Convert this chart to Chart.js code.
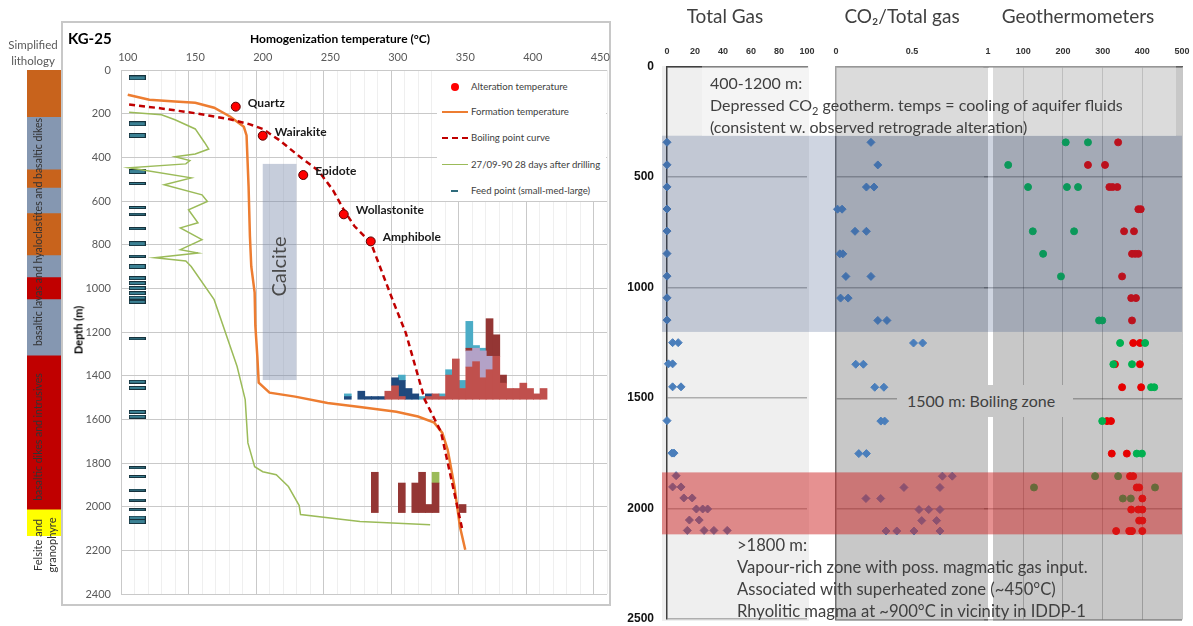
<!DOCTYPE html>
<html lang="en">
<head>
<meta charset="UTF-8">
<title>KG-25 temperatures and gas chemistry</title>
<script src="https://cdn.jsdelivr.net/npm/chart.js"></script>
<style>
    body {
        margin: 0;
        width: 1193px;
        height: 626px;
        position: relative;
        overflow: hidden;
        background: #fff;
        font-family: Lato, sans-serif;
        color: #404040;
    }
    canvas { position: absolute; left: 0; top: 0; z-index: 1; }
    .abs { position: absolute; white-space: nowrap; }
    .bg { position: absolute; z-index: 0; }
    .over { z-index: 2; }
    .rot { transform: translate(-50%, -50%) rotate(-90deg); }
    .title { font-size: 19px; color: #404040; transform: translateX(-50%); top: 4px; }
    .note { font-size: 16px; line-height: 22px; color: #404040; }
    #panelBox { left: 61px; top: 21px; width: 550px; height: 585px; border: 2px solid #c8c8c8; box-sizing: border-box; }
    #legend { left: 437px; top: 71px; width: 169px; height: 130px; background: #fff; font-size: 9.6px; color: #404040; }
    #legend .item { position: absolute; left: 34px; height: 14px; line-height: 14px; white-space: nowrap; }
    #legend .sym { position: absolute; }
</style>
</head>
<body>

<!-- right panel backgrounds -->
<div class="bg" style="left:662px; top:66px; width:147px; height:555px; background:#efefef;"></div>
<div class="bg" style="left:836px; top:66px; width:152px; height:555px; background:#c8c8c8;"></div>
<div class="bg" style="left:993px; top:66px; width:189px; height:555px; background:#c8c8c8;"></div>
<div id="panelBox" class="bg"></div>

<canvas id="litho" width="1193" height="626"></canvas>
<canvas id="kg" width="1193" height="626"></canvas>
<canvas id="gas" width="1193" height="626"></canvas>
<canvas id="co2" width="1193" height="626"></canvas>
<canvas id="geo" width="1193" height="626"></canvas>

<!-- left panel text -->
<div class="abs over" style="left:8px; top:37px; width:50px; text-align:center; font-size:11.5px; line-height:16px; color:#595959;">Simplified<br>lithology</div>
<div class="abs over rot" style="left:38px; top:232px; font-size:10.5px; color:#333;">basaltic lavas and hyaloclastites and basaltic dikes</div>
<div class="abs over rot" style="left:38px; top:437px; font-size:10.5px; color:#333;">basaltic dikes and intrusives</div>
<div class="abs over rot" style="left:37px; top:545px; font-size:11px; color:#333;">Felsite and</div>
<div class="abs over rot" style="left:51px; top:545px; font-size:11px; color:#333;">granophyre</div>

<div class="abs over" style="left:68px; top:29px; font-size:15px; font-weight:bold; color:#000;">KG-25</div>
<div class="abs over" style="left:340px; top:31px; transform:translateX(-50%); font-size:12px; font-weight:bold; color:#000;">Homogenization temperature (°C)</div>
<div class="abs over rot" style="left:78px; top:330px; font-size:11px; font-weight:bold; color:#000;">Depth (m)</div>

<div id="legend" class="abs over">
    <div class="sym" style="left:14px; top:12px; width:8px; height:8px; border-radius:50%; background:#ff0000;"></div>
    <div class="item" style="top:9px;">Alteration temperature</div>
    <div class="sym" style="left:5px; top:40px; width:26px; height:0; border-top:2px solid #ed7d31;"></div>
    <div class="item" style="top:34px;">Formation temperature</div>
    <div class="sym" style="left:5px; top:66px; width:26px; height:0; border-top:2px dashed #c00000;"></div>
    <div class="item" style="top:60px;">Boiling point curve</div>
    <div class="sym" style="left:5px; top:93px; width:26px; height:0; border-top:1.5px solid #9bbb59;"></div>
    <div class="item" style="top:87px;">27/09-90 28 days after drilling</div>
    <div class="sym" style="left:14px; top:119px; width:7px; height:2px; background:#2f6b7c;"></div>
    <div class="item" style="top:113px;">Feed point (small-med-large)</div>
</div>

<!-- right panel text -->
<div class="abs over title" style="left:725px;">Total Gas</div>
<div class="abs over title" style="left:902px;">CO₂/Total gas</div>
<div class="abs over title" style="left:1078px;">Geothermometers</div>

<div class="abs over" style="left:702px; top:66px; width:474px; height:70px; background:rgba(255,255,255,0.35);"></div>
<div class="abs over note" style="left:710px; top:72px;">400-1200 m:<br>Depressed CO<sub style="font-size:11px; line-height:0;">2</sub> geotherm. temps = cooling of aquifer fluids<br>(consistent w. observed retrograde alteration)</div>

<div class="abs over note" style="left:897px; top:385px; width:176px; height:32px; line-height:32px; background:#c8c8c8; padding-left:10px; box-sizing:border-box;">1500 m: Boiling zone</div>

<div class="abs over note" style="left:737px; top:534px; font-size:16.6px;">&gt;1800 m:<br>Vapour-rich zone with poss. magmatic gas input.<br>Associated with superheated zone (~450°C)<br>Rhyolitic magma at ~900°C in vicinity in IDDP-1</div>

<script>
// ---------- left panel: lithology ----------
const lithoTop    = [0, 217, 457, 541, 658, 850, 951, 1052, 1309, 2014];
const lithoBottom = [217, 457, 541, 658, 850, 951, 1052, 1309, 2014, 2133];
const lithoKind   = ['hyalo', 'lava', 'hyalo', 'lava', 'hyalo', 'lava', 'dike', 'lava', 'dike', 'felsite'];

// ---------- left panel: KG-25 ----------
const minerals     = ['Quartz', 'Wairakite', 'Epidote', 'Wollastonite', 'Amphibole'];
const mineralTemp  = [180, 200, 230, 260, 280];
const mineralDepth = [168, 301, 481, 661, 785];

const formTemp  = [100, 116, 135, 150, 164, 176, 186, 188, 189.5, 190.5, 191.5, 194, 194.5, 196, 197, 205, 224, 248, 272, 299, 315, 327, 333, 337, 342, 346, 350];
const formDepth = [113, 136, 144, 150, 173, 214, 260, 300, 533, 762, 900, 1020, 1170, 1313, 1432, 1478, 1496, 1525, 1543, 1565, 1587, 1615, 1662, 1740, 1907, 2090, 2197];

const boilTemp  = [101, 125, 150, 175, 190, 200, 212, 228, 241, 252, 260, 268, 280, 296, 306, 320, 332, 343, 348];
const boilDepth = [158, 176, 198, 225, 248, 270, 320, 400, 460, 550, 640, 716, 790, 1050, 1205, 1510, 1657, 1968, 2110];

const drillTemp  = [101, 125, 135, 150, 157, 160, 150, 135, 146, 143, 101, 147, 127, 155, 159, 145, 152, 139, 155, 139, 152, 120, 143, 147, 164, 181, 187, 189, 194, 200, 210, 219, 227, 228, 272, 324];
const drillDepth = [193, 205, 228, 270, 333, 362, 385, 397, 415, 430, 448, 494, 526, 572, 602, 640, 700, 723, 777, 823, 838, 860, 875, 900, 1052, 1358, 1510, 1708, 1817, 1840, 1854, 1908, 1995, 2036, 2068, 2083];

const feedDepth = [36, 246, 300, 465, 520, 630, 660, 727, 795, 853, 900, 953, 976, 999, 1022, 1043, 1062, 1231, 1428, 1456, 1566, 1588, 1822, 1862, 1924, 1970, 2014, 2052, 2068];
const feedSize  = [3, 3, 3, 3, 1, 1, 1, 1, 3, 1, 3, 2, 2, 2, 2, 2, 2, 1, 2, 2, 2, 2, 1, 1, 1, 1, 1, 3, 3];
const feedTemp  = 107;

const calciteTemp  = [200, 225];
const calciteDepth = [430, 1420];

// fluid inclusion histograms (counts per 5 °C bin)
const upBase = 1508;
const upBins      = [263, 268, 273, 278, 283, 288, 293, 298, 303, 308, 313, 318, 323, 328, 333, 338, 343, 348, 353, 358, 363, 368, 373, 378, 383, 388, 393, 398, 403, 408];
const upRed       = [0, 0, 0, 0, 0, 0, 3, 5, 1, 0, 0, 0, 1, 2, 1, 9, 15, 4, 12, 14, 8, 11, 16, 6, 4, 4, 6, 4, 2, 4];
const upDarkBlue  = [1, 0, 3, 1, 1, 1, 0, 3, 6, 4, 2, 0, 1, 0, 0, 0, 0, 0, 0, 0, 0, 0, 0, 0, 0, 0, 0, 0, 0, 0];
const upLavender  = [0, 0, 0, 0, 0, 0, 0, 0, 0, 0, 0, 0, 0, 0, 0, 0, 0, 0, 6, 5, 10, 5, 0, 0, 0, 0, 0, 0, 0, 0];
const upDarkRed   = [0, 0, 0, 0, 0, 0, 0, 0, 0, 0, 0, 0, 0, 0, 0, 0, 0, 0, 1, 0, 0, 14, 8, 3, 0, 0, 0, 0, 0, 0];
const upLightBlue = [1, 0, 0, 0, 0, 0, 0, 0, 2, 0, 0, 1, 0, 0, 1, 2, 0, 3, 10, 1, 1, 0, 0, 0, 0, 0, 0, 0, 0, 0];

const loBase = 2027;
const loBins    = [283, 303, 313, 318, 323, 328, 348];
const loDarkRed = [15, 11, 11, 15, 3, 11, 3];
const loGreen   = [0, 0, 0, 0, 0, 4, 0];
const countUnit = 12.3;   // metres of depth per inclusion

// ---------- right panel ----------
const gasDepth = [343, 445, 545, 645, 745, 847, 949, 1047, 1148, 1250, 1250, 1346, 1346, 1450, 1450, 1603, 1750, 1750, 1852, 1903, 1903, 1953, 1953, 2003, 2003, 2003, 2053, 2053, 2100, 2100, 2100, 2100];
const gasValue = [0, 0, 0, 0, 0, 0, 0, 0, 0, 4, 8, 1, 4, 4, 10, 0, 3.5, 5, 6.5, 4, 10, 12, 18, 21, 25.5, 29, 16, 23, 14.5, 26.5, 33.5, 43];

const co2Depth = [343, 445, 545, 545, 645, 645, 745, 745, 847, 847, 949, 949, 1047, 1047, 1148, 1148, 1250, 1250, 1346, 1346, 1450, 1450, 1603, 1603, 1750, 1750, 1852, 1852, 1903, 1903, 1953, 1953, 2003, 2003, 2003, 2053, 2053, 2100, 2100, 2100, 2100];
const co2Ratio = [0.23, 0.275, 0.20, 0.25, 0.01, 0.04, 0.125, 0.20, 0.025, 0.045, 0.065, 0.23, 0.03, 0.08, 0.275, 0.335, 0.51, 0.57, 0.13, 0.18, 0.255, 0.315, 0.295, 0.32, 0.15, 0.20, 0.70, 0.765, 0.447, 0.684, 0.197, 0.294, 0.546, 0.61, 0.684, 0.564, 0.662, 0.329, 0.40, 0.513, 0.684];

const geoGreenDepth = [343, 343, 445, 545, 545, 545, 745, 745, 847, 949, 1148, 1148, 1250, 1250, 1346, 1346, 1450, 1450, 1603, 1750, 1750, 1852, 1852, 1903, 1903, 1953, 1953];
const geoGreenTemp  = [207, 263, 62, 112, 210, 238, 124, 228, 150, 195, 291, 299, 344, 407, 327, 374, 422, 430, 299, 386, 399, 281, 339, 127, 432, 351, 371];
const geoRedDepth = [343, 445, 445, 545, 545, 545, 645, 645, 745, 745, 847, 847, 847, 949, 1047, 1047, 1148, 1250, 1250, 1346, 1346, 1450, 1450, 1603, 1603, 1750, 1750, 1852, 1852, 1903, 1903, 1953, 2003, 2003, 2003, 2053, 2053, 2100, 2100, 2100, 2100];
const geoRedTemp  = [339, 263, 306, 317, 325, 337, 390, 396, 354, 379, 374, 382, 390, 349, 372, 384, 374, 377, 394, 331, 394, 349, 397, 311, 321, 323, 361, 369, 377, 386, 392, 400, 372, 390, 400, 392, 400, 334, 367, 374, 400];

const blueBand = [313, 1200];
const redBand  = [1835, 2115];

// ---------- helpers ----------
Chart.defaults.font.family = 'Lato';
const pts = (xs, ys) => xs.map((v, i) => ({ x: v, y: ys[i] }));
const plain = v => String(v);
const common = {
    responsive: false,
    animation: false,
    events: [],
    plugins: { legend: { display: false }, tooltip: { enabled: false } }
};

const lithoColor = { hyalo: '#c8631c', lava: '#8597b1', dike: '#c00000', felsite: '#ffff00' };
const histColor = {
    red: '#c0504d', darkBlue: '#1f497d', lavender: '#b3a2c7',
    darkRed: '#943634', lightBlue: '#4bacc6', green: '#9bbb59'
};

function histSets(bins, base, layers) {
    const acc = bins.map(() => 0);
    return layers.map(([name, counts]) => {
        const data = [];
        counts.forEach((c, i) => {
            if (c > 0) {
                data.push({ x: bins[i], y: [base - acc[i] * countUnit, base - (acc[i] + c) * countUnit] });
                acc[i] += c;
            }
        });
        return { type: 'bar', data, backgroundColor: histColor[name], grouped: false, barThickness: 7, order: 5 };
    });
}

function feedImage(size) {
    const h = size + 2;
    const c = document.createElement('canvas');
    c.width = 17; c.height = h;
    const g = c.getContext('2d');
    g.fillStyle = '#3b8194';
    g.fillRect(0, 0, 17, h);
    g.strokeStyle = '#16323c';
    g.strokeRect(0.5, 0.5, 16, h - 1);
    return c;
}
const feedImgs = { 1: feedImage(1), 2: feedImage(2), 3: feedImage(3) };

// ---------- lithology column ----------
new Chart(document.getElementById('litho'), {
    type: 'bar',
    data: {
        datasets: [{
            data: lithoTop.map((t, i) => ({ x: 0, y: [t, lithoBottom[i]] })),
            backgroundColor: lithoKind.map(k => lithoColor[k]),
            barThickness: 34,
            grouped: false
        }]
    },
    options: {
        ...common,
        layout: { padding: { left: 27, right: 1132, top: 70, bottom: 32 } },
        scales: {
            x: { type: 'linear', min: -1, max: 1, display: false },
            y: { min: 0, max: 2400, reverse: true, display: false }
        }
    }
});

// ---------- KG-25 chart ----------
const kgAnnot = {
    id: 'kgAnnot',
    beforeDatasetsDraw(chart) {
        const { ctx, scales: { x, y } } = chart;
        const l = x.getPixelForValue(calciteTemp[0]), r = x.getPixelForValue(calciteTemp[1]);
        const t = y.getPixelForValue(calciteDepth[0]), b = y.getPixelForValue(calciteDepth[1]);
        ctx.save();
        ctx.fillStyle = 'rgba(120,135,170,0.42)';
        ctx.fillRect(l, t, r - l, b - t);
        ctx.translate((l + r) / 2, y.getPixelForValue(900));
        ctx.rotate(-Math.PI / 2);
        ctx.font = '20px Lato';
        ctx.fillStyle = '#4a4a4a';
        ctx.textAlign = 'center';
        ctx.textBaseline = 'middle';
        ctx.fillText('Calcite', 0, 0);
        ctx.restore();
    },
    afterDatasetsDraw(chart) {
        const { ctx, scales: { x, y } } = chart;
        ctx.save();
        ctx.font = 'bold 12px Lato';
        ctx.fillStyle = '#1a1a1a';
        ctx.textBaseline = 'middle';
        minerals.forEach((m, i) => {
            ctx.fillText(m, x.getPixelForValue(mineralTemp[i]) + 12, y.getPixelForValue(mineralDepth[i]) - 4);
        });
        ctx.restore();
    }
};

new Chart(document.getElementById('kg'), {
    type: 'scatter',
    data: {
        datasets: [
            { data: pts(mineralTemp, mineralDepth), pointRadius: 4.5, pointBackgroundColor: '#ff0000',
              pointBorderColor: '#5a0000', pointBorderWidth: 1, order: 0 },
            { data: pts(boilTemp, boilDepth), showLine: true, borderColor: '#c00000', borderWidth: 2.5,
              borderDash: [6, 4], pointRadius: 0, order: 1 },
            { data: pts(formTemp, formDepth), showLine: true, borderColor: '#ed7d31', borderWidth: 2.5,
              pointRadius: 0, order: 2 },
            { data: pts(drillTemp, drillDepth), showLine: true, borderColor: '#9bbb59', borderWidth: 1.5,
              pointRadius: 0, order: 3 },
            { data: feedDepth.map(d => ({ x: feedTemp, y: d })), pointStyle: feedSize.map(s => feedImgs[s]),
              order: 4, clip: false },
            ...histSets(upBins, upBase, [['red', upRed], ['darkBlue', upDarkBlue], ['lavender', upLavender],
                                         ['darkRed', upDarkRed], ['lightBlue', upLightBlue]]),
            ...histSets(loBins, loBase, [['darkRed', loDarkRed], ['green', loGreen]])
        ]
    },
    options: {
        ...common,
        layout: { padding: { left: 71, right: 586, top: 50, bottom: 32 } },
        scales: {
            x: {
                type: 'linear', position: 'top', min: 100, max: 450,
                ticks: { stepSize: 10, autoSkip: false, maxRotation: 0, padding: 6, color: '#595959',
                         font: { size: 11 }, callback: v => (v % 50 === 0 ? plain(v) : '') },
                grid: { drawTicks: false, color: c => (c.tick && c.tick.value % 50 === 0 ? '#c9c9c9' : '#efefef') },
                border: { display: false },
                afterFit: s => { s.height = 20; }
            },
            y: {
                min: 0, max: 2400, reverse: true,
                ticks: { stepSize: 200, autoSkip: false, padding: 10, color: '#595959', font: { size: 11 },
                         callback: plain },
                grid: { drawTicks: false, color: '#c9c9c9' },
                border: { display: false },
                afterFit: s => { s.width = 50; }
            }
        }
    },
    plugins: [kgAnnot]
});

// ---------- right panel charts ----------
// tick offsets come from invisible tick marks so that label padding does not shrink the plot
const clear = 'rgba(0,0,0,0)';
const depthGrid = { drawTicks: false, color: 'rgba(0,0,0,0.27)', lineWidth: 1.5 };
const topTick = { padding: 0, color: '#333', font: { family: 'Liberation Sans', size: 9, weight: 'bold' } };
const topGridOff = { display: true, color: clear, drawTicks: true, tickLength: 10, tickColor: clear };

new Chart(document.getElementById('gas'), {
    type: 'scatter',
    data: { datasets: [{ data: pts(gasValue, gasDepth), pointStyle: 'rectRot', pointRadius: 4,
                         backgroundColor: '#4a7ebb', borderColor: '#4a7ebb', clip: false }] },
    options: {
        ...common,
        layout: { padding: { left: 612, right: 386, top: 40, bottom: 6.5 } },
        scales: {
            x: { position: 'top', min: 0, max: 100, ticks: { ...topTick, stepSize: 20, callback: plain },
                 grid: topGridOff, border: { display: true, color: '#404040', width: 1.5 },
                 afterFit: s => { s.height = 26.5; } },
            y: { min: 0, max: 2500, reverse: true,
                 ticks: { stepSize: 500, padding: 0, color: '#111', callback: plain,
                          font: { family: 'Liberation Sans', size: 12, weight: 'bold' } },
                 grid: { ...depthGrid, drawTicks: true, tickLength: 13, tickColor: clear },
                 border: { display: true, color: '#404040', width: 1.5 },
                 afterFit: s => { s.width = 55; } }
        }
    }
});

new Chart(document.getElementById('co2'), {
    type: 'scatter',
    data: { datasets: [{ data: pts(co2Ratio, co2Depth), pointStyle: 'rectRot', pointRadius: 4,
                         backgroundColor: '#4a7ebb', borderColor: '#4a7ebb', clip: false }] },
    options: {
        ...common,
        layout: { padding: { left: 836, right: 205, top: 40, bottom: 6.5 } },
        scales: {
            x: { position: 'top', min: 0, max: 1, ticks: { ...topTick, stepSize: 0.5, callback: plain },
                 grid: topGridOff, border: { display: true, color: '#606060', width: 1.5 },
                 afterFit: s => { s.height = 26.5; } },
            y: { min: 0, max: 2500, reverse: true, ticks: { display: false, stepSize: 500 },
                 grid: depthGrid, border: { display: true, color: '#707070', width: 1.5 },
                 afterFit: s => { s.width = 0; } }
        }
    }
});

const bandPlugin = {
    id: 'bands',
    afterDatasetsDraw(chart) {
        const { ctx, scales: { y } } = chart;
        ctx.save();
        ctx.fillStyle = 'rgba(49,75,124,0.23)';
        let t = y.getPixelForValue(blueBand[0]), b = y.getPixelForValue(blueBand[1]);
        ctx.fillRect(662, t, 520, b - t);
        ctx.fillStyle = 'rgba(205,35,35,0.5)';
        t = y.getPixelForValue(redBand[0]); b = y.getPixelForValue(redBand[1]);
        ctx.fillRect(662, t, 520, b - t);
        ctx.restore();
    }
};

new Chart(document.getElementById('geo'), {
    type: 'scatter',
    data: {
        datasets: [
            { data: pts(geoGreenTemp, geoGreenDepth), pointRadius: 3.5, backgroundColor: '#00b050', borderColor: '#00b050' },
            { data: pts(geoRedTemp, geoRedDepth), pointRadius: 3.5, backgroundColor: '#e60000', borderColor: '#e60000' }
        ]
    },
    options: {
        ...common,
        layout: { padding: { left: 983.6, right: 11, top: 40, bottom: 6.5 } },
        scales: {
            x: { position: 'top', min: 0, max: 500,
                 ticks: { ...topTick, stepSize: 100, callback: v => (v === 0 ? '' : plain(v)) },
                 grid: { drawTicks: true, tickLength: 10, tickColor: clear,
                         color: c => (c.tick && c.tick.value === 0 ? clear : 'rgba(0,0,0,0.22)') },
                 border: { display: true, color: '#606060', width: 1.5 },
                 afterFit: s => { s.height = 26.5; } },
            y: { min: 0, max: 2500, reverse: true, ticks: { display: false, stepSize: 500 },
                 grid: depthGrid, border: { display: false },
                 afterFit: s => { s.width = 0; } }
        }
    },
    plugins: [bandPlugin]
});
</script>
</body>
</html>
